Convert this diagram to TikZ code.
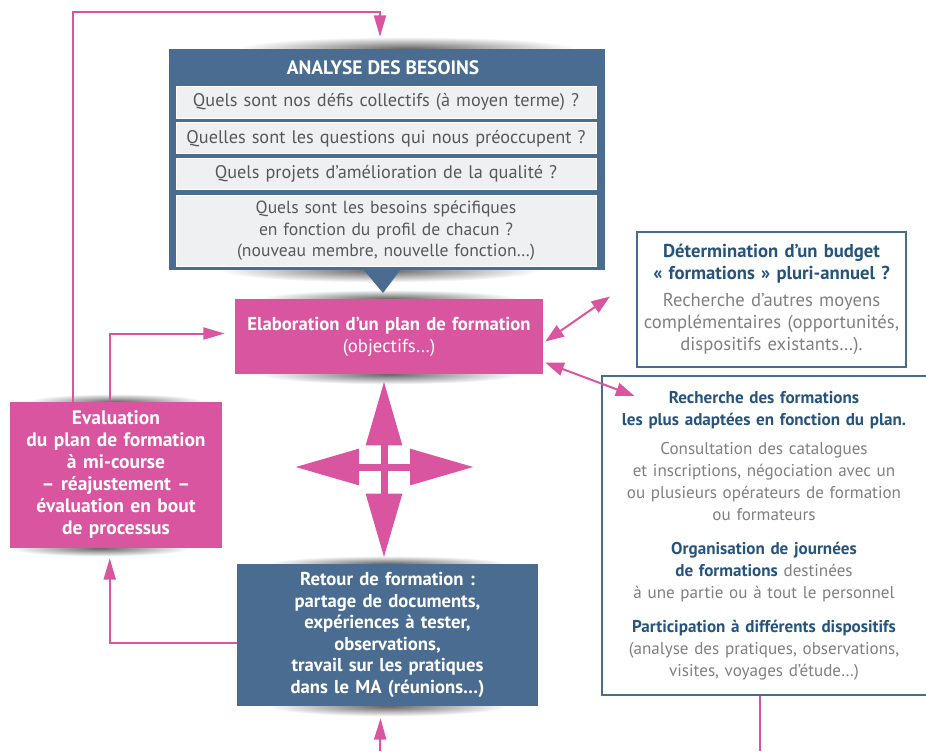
\documentclass[tikz,border=0pt]{standalone}
\usepackage{fontspec}
\setmainfont{PT Sans}
\usetikzlibrary{arrows.meta}
\usetikzlibrary{positioning}
\usetikzlibrary{backgrounds}
\usetikzlibrary{calc}
\usepackage{xcolor}
\definecolor{maBlue}{RGB}{74,108,145}
\definecolor{maPink}{RGB}{218,85,160}
\definecolor{maPale}{RGB}{239,240,242}
\definecolor{maTitle}{RGB}{38,84,124}
\definecolor{maGrey}{RGB}{128,128,128}
\definecolor{maDark}{RGB}{88,88,88}
\newdimen\px \px=0.75pt

\tikzset{
  txt/.style={font=\fontsize{14}{16.5}\selectfont, align=center, inner sep=0pt},
  bluebox/.style={txt, fill=maBlue, text=white},
  pinkbox/.style={txt, fill=maPink, text=white},
  framebox/.style={txt, draw=maBlue, line width=1.5pt, fill=white, text=maGrey},
  question/.style={txt, fill=maPale, draw=white, line width=0.6pt, text=maDark,
    font=\fontsize{13.7}{16.5}\selectfont, minimum width=420\px, text width=414\px},
  link/.style={maPink, line width=1.5pt, -{Triangle[length=16pt, width=9pt]}},
  dlink/.style={maPink, line width=1.5pt, {Triangle[length=14pt, width=10pt]}-{Triangle[length=14pt, width=10pt]}},
  cross/.style={maPink, line width=5.25pt, {Triangle[length=48pt, width=26pt]}-{Triangle[length=48pt, width=26pt]}},
  blob/.style={inner color=black!60, outer color=white},
}

\begin{document}
\begin{tikzpicture}[x=0.75pt, y=-0.75pt]
    \useasboundingbox (0,0) rectangle (926,751);

    % analyse des besoins
    \node [bluebox, minimum width=436\px, minimum height=221\px] (analyse) at (387,159.5) {};
    \fill [maBlue] (363,269) -- (401,269) -- (383,293) -- cycle;
    \node [txt, text=white, font=\fontsize{14.6}{16.5}\selectfont\bfseries] (titre) at (383,68) {ANALYSE DES BESOINS};
    \node [question, minimum height=32\px] (q1) at (386,102) {Quels sont nos défis collectifs (à moyen terme) ?};
    \node [question, minimum height=31\px, below=4\px of q1] (q2) {Quelles sont les questions qui nous préoccupent ?};
    \node [question, minimum height=31\px, below=4\px of q2] (q3) {Quels projets d’amélioration de la qualité ?};
    \node [question, minimum height=71\px, below=5\px of q3, font=\fontsize{13.2}{16}\selectfont] (q4) {Quels sont les besoins spécifiques\\ en fonction du profil de chacun ?\\ (nouveau membre, nouvelle fonction…)};

    % plan, evaluation, retour
    \node [pinkbox, minimum width=308\px, minimum height=75\px, text width=302\px] (plan) at (389,336.5)
        {\bfseries Elaboration d’un plan de formation\\ \mdseries (objectifs…)};
    \node [pinkbox, minimum width=212\px, minimum height=146\px, text width=206\px, font=\fontsize{14.6}{16.5}\selectfont\bfseries] (eval) at (116,475)
        {Evaluation\\ du plan de formation\\ à mi-course\\ – réajustement –\\ évaluation en bout\\ de processus};
    \node [bluebox, minimum width=301\px, minimum height=142\px, text width=294\px, font=\fontsize{14}{16.2}\selectfont\bfseries] (retour) at (387.5,635)
        {Retour de formation :\\ partage de documents,\\ expériences à tester,\\ observations,\\ travail sur les pratiques\\ dans le MA (réunions…)};

    % encadres de droite
    \node [framebox, minimum width=269\px, minimum height=135\px, text width=266\px] (budget) at (771.5,299.5)
        {{\bfseries\color{maTitle} Détermination d’un budget\\ «~formations~» pluri-annuel ?}\\[5\px]
         Recherche d’autres moyens\\ complémentaires (opportunités,\\ dispositifs existants…).};
    \node [framebox, minimum width=325\px, minimum height=319\px, text width=322\px, font=\fontsize{12.8}{16.5}\selectfont] (recherche) at (764,535.5)
        {{\bfseries\color{maTitle} Recherche des formations\\ les plus adaptées en fonction du plan.}\\[7\px]
         Consultation des catalogues\\ et inscriptions, négociation avec un\\ ou plusieurs opérateurs de formation\\ ou formateurs\\[12\px]
         {\bfseries\color{maTitle} Organisation de journées\\ de formations} destinées\\ à une partie ou à tout le personnel\\[12\px]
         {\bfseries\color{maTitle} Participation à différents dispositifs}\\ (analyse des pratiques, observations,\\ visites, voyages d’étude…)};

    % fleche centrale
    \coordinate (hub) at (384,467);
    \draw [cross] ([yshift=-7\px]plan.south -| hub) -- ([yshift=6\px]retour.north -| hub);
    \draw [cross] ([xshift=-89\px]hub) -- ([xshift=90\px]hub);

    % boucles
    \coordinate (entree) at (380,751);
    \coordinate (sortie) at (760,751);
    \draw [link] ([xshift=63\px]eval.north west) -- ++(0,-390) -| ([xshift=-7\px,yshift=12\px]analyse.north);
    \draw [link] ([xshift=100\px]eval.north west) |- ([xshift=-10\px,yshift=3\px]plan.west);
    \draw [link] ([yshift=-8\px]retour.west) -| ([xshift=100\px,yshift=-10\px]eval.south west);
    \draw [link] (entree) -- ([xshift=-7\px,yshift=-12\px]retour.south);
    \draw [maPink, line width=1.5pt] ([xshift=-4\px]recherche.south) -- (sortie);
    \draw [dlink] ([xshift=2\px,yshift=-5\px]plan.east) -- ([xshift=-26\px,yshift=3\px]budget.west);
    \draw [dlink] ([xshift=2\px,yshift=-26\px]plan.east) -- ([xshift=34\px,yshift=-21\px]recherche.north west);

    % ombres
    \begin{scope}[on background layer]
        \shade [blob] ([xshift=20\px]analyse.north) ellipse [x radius=170\px, y radius=12\px];
        \shade [blob] ([xshift=-7\px]analyse.south) ellipse [x radius=160\px, y radius=12\px];
        \shade [blob] (plan.north) ellipse [x radius=130\px, y radius=9\px];
        \shade [blob] (plan.south) ellipse [x radius=130\px, y radius=10\px];
        \shade [blob] (eval.north) ellipse [x radius=90\px, y radius=8\px];
        \shade [blob] ([xshift=-16\px]eval.south) ellipse [x radius=90\px, y radius=8\px];
        \shade [blob] (retour.north) ellipse [x radius=120\px, y radius=8\px];
        \shade [blob] (retour.south) ellipse [x radius=120\px, y radius=10\px];
    \end{scope}
\end{tikzpicture}
\end{document}
